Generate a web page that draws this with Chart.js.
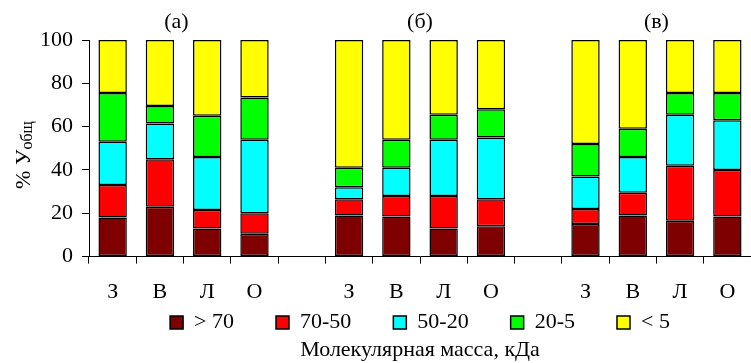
<!DOCTYPE html>
<html>
<head>
<meta charset="utf-8">
<script src="https://cdn.jsdelivr.net/npm/chart.js@4/dist/chart.umd.min.js"></script>
<style>
  html, body { margin: 0; padding: 0; background: #fff; }
  canvas { display: block; }
</style>
</head>
<body>
<canvas id="myChart" width="751" height="363"></canvas>
<script>
// Категории по оси X: три группы (а), (б), (в) с пустыми промежутками
var categories = ['З', 'В', 'Л', 'О', '', 'З', 'В', 'Л', 'О', '', 'З', 'В', 'Л', 'О'];

// Доли фракций, % от общего (снизу вверх)
var frac70 = [18, 23, 13, 10.5, null, 19, 18.5, 13, 14, null, 15, 19, 16.5, 18.5];
var frac70_50 = [15, 22, 8.5, 9.5, null, 7.5, 9.5, 15, 12.5, null, 7, 10.5, 25.5, 21.5];
var frac50_20 = [20, 16.5, 24.5, 34, null, 5.5, 13, 26, 28.5, null, 15, 16.5, 23.5, 23];
var frac20_5 = [22.5, 8, 19, 19.5, null, 9, 13, 11.5, 13, null, 15, 13, 10, 12.5];
var frac5 = [24.5, 30.5, 35, 26.5, null, 59, 46, 34.5, 32, null, 48, 41, 24.5, 24.5];

var seriesNames = ['> 70', '70-50', '50-20', '20-5', '< 5'];
var yTicks = [0, 20, 40, 60, 80, 100];
var groupNames = ['(а)', '(б)', '(в)'];

var colors = ['#7f0000', '#ff0000', '#00ffff', '#00ff00', '#ffff00'];
var groupLabelAt = [1.35, 6.5, 11.5];
var serif = "'Liberation Serif', 'Times New Roman', serif";

Chart.defaults.font.family = serif;
Chart.defaults.font.size = 22;
Chart.defaults.color = '#000';

// подписи групп над столбцами
var groupLabels = {
    id: 'groupLabels',
    afterDraw: function (chart) {
        var c = chart.ctx, x = chart.scales.x;
        c.save();
        c.font = '22px ' + serif;
        c.fillStyle = '#000';
        c.textAlign = 'center';
        c.textBaseline = 'middle';
        groupNames.forEach(function (g, i) {
            c.fillText(g, x.getPixelForValue(groupLabelAt[i]), 22);
        });
        c.restore();
    }
};

// подпись оси Y с индексом
var yTitle = {
    id: 'yTitle',
    afterDraw: function (chart) {
        var c = chart.ctx;
        var main = '% У', sub = 'общ';
        c.save();
        c.fillStyle = '#000';
        c.font = '22px ' + serif;
        var w1 = c.measureText(main).width;
        c.font = '16px ' + serif;
        var w2 = c.measureText(sub).width;
        c.translate(30, 155);
        c.rotate(-Math.PI / 2);
        c.textBaseline = 'alphabetic';
        c.textAlign = 'left';
        var start = -(w1 + w2) / 2;
        c.font = '22px ' + serif;
        c.fillText(main, start, 0);
        c.font = '16px ' + serif;
        c.fillText(sub, start + w1, 2);
        c.restore();
    }
};

var datasets = [frac70, frac70_50, frac50_20, frac20_5, frac5].map(function (d, i) {
    return {
        label: seriesNames[i],
        data: d,
        backgroundColor: colors[i],
        borderColor: '#000',
        borderWidth: 1.5,
        borderSkipped: false
    };
});

var ctx = document.getElementById('myChart').getContext('2d');
var myChart = new Chart(ctx, {
    type: 'bar',
    data: { labels: categories, datasets: datasets },
    options: {
        responsive: false,
        animation: false,
        layout: { padding: { top: 40, right: 0, left: 0, bottom: 0 } },
        datasets: { bar: { categoryPercentage: 1, barPercentage: 0.6 } },
        scales: {
            x: {
                stacked: true,
                grid: { drawOnChartArea: false, tickLength: 7, color: '#000', offset: true },
                border: { color: '#000', width: 1 },
                // подписи вынесены ниже оси, место под ними занимает легенда
                ticks: { mirror: true, padding: -49, color: '#000', autoSkip: false, maxRotation: 0 },
                afterFit: function (s) { s.height = 13; }
            },
            y: {
                stacked: true,
                min: 0,
                max: 100,
                afterBuildTicks: function (s) { s.ticks = yTicks.map(function (v) { return { value: v }; }); },
                grid: { drawOnChartArea: false, tickLength: 7, color: '#000' },
                border: { color: '#000', width: 1 },
                ticks: { padding: 9, color: '#000' },
                afterFit: function (s) { s.width = 89; }
            }
        },
        plugins: {
            tooltip: { enabled: false },
            legend: {
                position: 'bottom',
                fullSize: false,
                maxHeight: 67,
                labels: {
                    boxWidth: 13,
                    boxHeight: 13,
                    padding: 42,
                    color: '#000',
                    font: { size: 22, family: serif }
                }
            },
            title: {
                display: true,
                position: 'bottom',
                fullSize: false,
                text: 'Молекулярная масса, кДа',
                color: '#000',
                font: { size: 22, weight: 'normal', family: serif },
                padding: { top: 0, bottom: 0 }
            }
        }
    },
    plugins: [groupLabels, yTitle]
});
</script>
</body>
</html>
